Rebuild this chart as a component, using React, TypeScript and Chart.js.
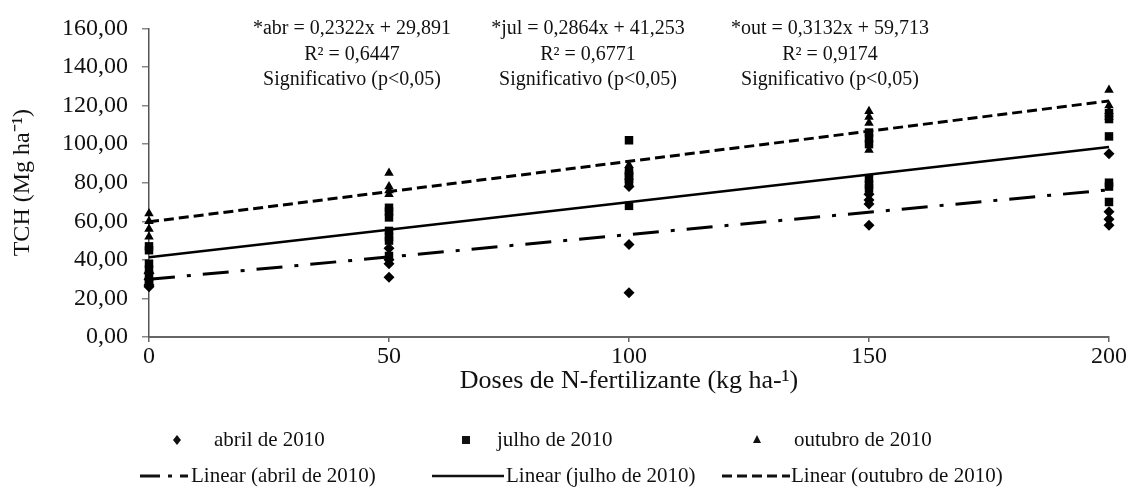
import React, { useEffect, useRef } from 'react';
import { Chart, registerables } from 'chart.js';

Chart.register(...registerables);

// ---------- data ----------
const xTickValues = [0, 50, 100, 150, 200];
const yTickValues = [0, 20, 40, 60, 80, 100, 120, 140, 160];
const yTickLabels = ['0,00', '20,00', '40,00', '60,00', '80,00', '100,00', '120,00', '140,00', '160,00'];

const abrilDoses = [0, 0, 0, 0, 50, 50, 50, 50, 100, 100, 100, 150, 150, 150, 150, 200, 200, 200, 200];
const abrilTCH = [33, 30, 27, 26, 46, 40, 38, 31, 78, 48, 23, 74, 71, 69, 58, 95, 65, 61, 58];

const julhoDoses = [0, 0, 0, 0, 0, 0, 0, 50, 50, 50, 50, 50, 50, 50, 100, 100, 100, 100, 100, 100, 150, 150, 150, 150, 150, 150, 200, 200, 200, 200, 200, 200];
const julhoTCH = [47, 45, 38, 35, 32, 29, 28, 67, 65, 62, 55, 52, 50, 42, 102, 86, 84, 82, 80, 68, 106, 103, 100, 82, 79, 77, 116, 113, 104, 80, 78, 70];

const outubroDoses = [0, 0, 0, 0, 50, 50, 50, 50, 100, 100, 100, 150, 150, 150, 150, 200, 200, 200, 200];
const outubroTCH = [64, 60, 56, 52, 85, 78, 76, 74, 89, 86, 83, 117, 114, 111, 97, 128, 120, 117, 114];

const trendDoses = [0, 200];
const abrilTrend = [29.9, 76.3];
const julhoTrend = [41.3, 98.5];
const outubroTrend = [59.7, 122.4];

const scatterLabels = ['abril de 2010', 'julho de 2010', 'outubro de 2010'];
const trendLabels = ['Linear (abril de 2010)', 'Linear (julho de 2010)', 'Linear (outubro de 2010)'];

const equations = ['*abr = 0,2322x + 29,891', '*jul = 0,2864x + 41,253', '*out = 0,3132x + 59,713'];
const rSquared = ['R² = 0,6447', 'R² = 0,6771', 'R² = 0,9174'];
const significance = ['Significativo (p<0,05)', 'Significativo (p<0,05)', 'Significativo (p<0,05)'];

const FONT = '"Liberation Serif", "Times New Roman", serif';

function toPoints(xs: number[], ys: number[]) {
  return xs.map((x, i) => ({ x, y: ys[i] }));
}

const overlayPlugin = {
  id: 'overlay',
  afterDraw(chart: any) {
    const ctx = chart.ctx as CanvasRenderingContext2D;
    ctx.save();
    ctx.fillStyle = '#111';
    ctx.strokeStyle = '#111';

    // regression annotations
    const annX = [352, 588, 830];
    const annY = [29, 55, 80];
    ctx.font = `20px ${FONT}`;
    ctx.textAlign = 'center';
    ctx.textBaseline = 'middle';
    for (let i = 0; i < 3; i++) {
      ctx.fillText(equations[i], annX[i], annY[0]);
      ctx.fillText(rSquared[i], annX[i], annY[1]);
      ctx.fillText(significance[i], annX[i], annY[2]);
    }

    // legend
    ctx.font = `21px ${FONT}`;
    ctx.textAlign = 'left';
    const row1Y = 440;
    const row2Y = 476;
    const markerX = [177, 466, 757];
    const markerTextX = [214, 497, 794];
    const styles = ['rectRot', 'rect', 'triangle'];
    for (let i = 0; i < 3; i++) {
      const mx = markerX[i];
      ctx.beginPath();
      if (styles[i] === 'rectRot') {
        ctx.moveTo(mx, row1Y - 5);
        ctx.lineTo(mx + 4, row1Y);
        ctx.lineTo(mx, row1Y + 5);
        ctx.lineTo(mx - 4, row1Y);
      } else if (styles[i] === 'rect') {
        ctx.rect(mx - 4, row1Y - 4, 8, 8);
      } else {
        ctx.moveTo(mx, row1Y - 5);
        ctx.lineTo(mx + 4, row1Y + 3);
        ctx.lineTo(mx - 4, row1Y + 3);
      }
      ctx.closePath();
      ctx.fill();
      ctx.fillText(scatterLabels[i], markerTextX[i], row1Y);
    }
    const lineStart = [140, 432, 722];
    const lineEnd = [188, 504, 790];
    const lineTextX = [191, 506, 791];
    for (let i = 0; i < 3; i++) {
      const ds = chart.data.datasets[3 + i];
      ctx.save();
      ctx.lineWidth = ds.borderWidth;
      ctx.setLineDash(i === 0 ? [20, 8, 4, 8] : ds.borderDash || []);
      ctx.beginPath();
      ctx.moveTo(lineStart[i], row2Y);
      ctx.lineTo(lineEnd[i], row2Y);
      ctx.stroke();
      ctx.restore();
      ctx.fillText(trendLabels[i], lineTextX[i], row2Y);
    }
    ctx.restore();
  },
};

export default function App() {
  const canvasRef = useRef<HTMLCanvasElement | null>(null);

  useEffect(() => {
    if (!canvasRef.current) return;
    const pointCommon = { showLine: false, clip: false, borderWidth: 0, pointBorderWidth: 0, backgroundColor: '#000', borderColor: '#000' };
    const lineCommon = { showLine: true, clip: false, pointRadius: 0, borderColor: '#000', backgroundColor: '#000', fill: false };
    const chart = new Chart(canvasRef.current, {
      type: 'scatter',
      data: {
        datasets: [
          { ...pointCommon, label: scatterLabels[0], data: toPoints(abrilDoses, abrilTCH), pointStyle: 'rectRot', pointRadius: 5.5 },
          { ...pointCommon, label: scatterLabels[1], data: toPoints(julhoDoses, julhoTCH), pointStyle: 'rect', pointRadius: 6 },
          { ...pointCommon, label: scatterLabels[2], data: toPoints(outubroDoses, outubroTCH), pointStyle: 'triangle', pointRadius: 5.5 },
          { ...lineCommon, label: trendLabels[0], data: toPoints(trendDoses, abrilTrend), borderWidth: 3, borderDash: [26, 12, 4, 12] },
          { ...lineCommon, label: trendLabels[1], data: toPoints(trendDoses, julhoTrend), borderWidth: 2.5, borderDash: [] },
          { ...lineCommon, label: trendLabels[2], data: toPoints(trendDoses, outubroTrend), borderWidth: 3, borderDash: [10, 5] },
        ],
      } as any,
      options: {
        responsive: false,
        animation: false,
        devicePixelRatio: 1,
        layout: { padding: { left: 0, right: 22, top: 24, bottom: 95 } },
        plugins: { legend: { display: false }, tooltip: { enabled: false } },
        scales: {
          x: {
            type: 'linear',
            min: 0,
            max: 200,
            afterBuildTicks: (s: any) => { s.ticks = xTickValues.map((v) => ({ value: v })); },
            ticks: { padding: 0, color: '#111', font: { family: FONT, size: 24 }, callback: (v: any) => String(v) },
            grid: { display: true, drawOnChartArea: false, drawTicks: true, tickLength: 5, color: '#666', lineWidth: 1.5 },
            border: { display: true, color: '#666', width: 2 },
            title: { display: true, text: 'Doses de N-fertilizante (kg ha-¹)', color: '#111', font: { family: FONT, size: 26 }, padding: { top: 4, bottom: 4 } },
            afterFit: (s: any) => { s.height = 64; },
          },
          y: {
            type: 'linear',
            min: 0,
            max: 160,
            afterBuildTicks: (s: any) => { s.ticks = yTickValues.map((v) => ({ value: v })); },
            ticks: { padding: 14, color: '#111', font: { family: FONT, size: 24 }, callback: (v: any) => yTickLabels[yTickValues.indexOf(Number(v))] },
            grid: { display: true, drawOnChartArea: false, drawTicks: true, tickLength: 7, color: '#888', lineWidth: 1.5 },
            border: { display: true, color: '#555', width: 1.5 },
            title: { display: true, text: 'TCH (Mg ha⁻¹)', color: '#111', font: { family: FONT, size: 24 }, padding: { top: 8, bottom: 0 } },
            afterFit: (s: any) => { s.width = 149; },
          },
        },
      } as any,
      plugins: [overlayPlugin],
    });
    return () => chart.destroy();
  }, []);

  return (
    <div style={{ position: 'absolute', left: 0, top: 0, width: 1131, height: 496, background: '#fff' }}>
      <canvas ref={canvasRef} width={1131} height={496} style={{ display: 'block', width: 1131, height: 496 }} />
    </div>
  );
}
